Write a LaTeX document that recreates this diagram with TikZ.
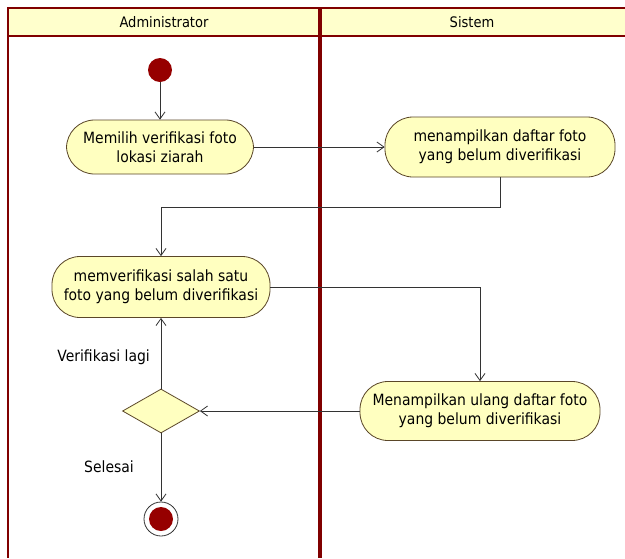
\documentclass[tikz,border=0pt]{standalone}
\usepackage{fontspec}
\setmainfont{DejaVu Sans Condensed}
\usetikzlibrary{arrows.meta,shapes.geometric}
\definecolor{poolred}{RGB}{128,0,0}
\definecolor{headfill}{RGB}{255,255,204}
\definecolor{actfill}{RGB}{255,255,192}
\definecolor{actline}{RGB}{90,70,40}
\definecolor{dotred}{RGB}{150,0,0}
\tikzset{
  action/.style={draw=actline, fill=actfill, rounded corners=28pt, align=center,
    font=\fontsize{15.5}{19}\selectfont, inner sep=0pt, line width=0.8pt},
  decision/.style={draw=actline, fill=actfill, diamond, aspect=1.75, inner sep=0pt,
    minimum width=77pt, minimum height=44pt, line width=0.8pt},
  flow/.style={draw=black!80, line width=0.8pt, -{Straight Barb[length=7pt,width=10pt]}},
  guard/.style={font=\fontsize{15.5}{19}\selectfont, anchor=east, inner sep=0pt},
  lane/.style={draw=poolred},
  lanetitle/.style={font=\fontsize{14.5}{18}\selectfont},
}
\begin{document}
\begin{tikzpicture}[x=1pt,y=-1pt]
\useasboundingbox[fill=white] (0,0) rectangle (625,558);
% swimlane header
\fill[headfill] (8,8) rectangle (625,36);
\draw[lane, line width=2pt] (625,8) -- (8,8) -- (8,558);
\draw[lane, line width=2pt] (8,36) -- (625,36);
\draw[lane, line width=4pt] (320,8) -- (320,558);
\node[lanetitle] (hadm) at (164,22) {Administrator};
\node[lanetitle] (hsys) at (472,22) {Sistem};
% nodes
\node[circle, fill=dotred, minimum size=24pt, inner sep=0pt] (start) at (160,70) {};
\node[action, minimum width=187pt, minimum height=54pt] (a1) at (160,147)
  {Memilih verifikasi foto\\lokasi ziarah};
\node[action, minimum width=230pt, minimum height=60pt] (a2) at (500,147)
  {menampilkan daftar foto\\yang belum diverifikasi};
\node[action, minimum width=218pt, minimum height=61pt] (a3) at (161,287)
  {memverifikasi salah satu\\foto yang belum diverifikasi};
\node[action, minimum width=240pt, minimum height=59pt] (a4) at (480,411)
  {Menampilkan ulang daftar foto\\yang belum diverifikasi};
\node[decision] (dec) at (161,411) {};
\node[circle, draw=black!80, line width=0.8pt, fill=white, minimum size=34pt, inner sep=0pt] (end) at (161,519) {};
\node[circle, fill=dotred, minimum size=24pt, inner sep=0pt] (endin) at (end) {};
% connectors
\draw[flow] (start) -- (a1);
\draw[flow] (a1.east) -- (a2.west);
\draw[flow] (a2.south) -- ++(0,30) -| (a3.north);
\draw[flow] (a3.east) -| (a4.north);
\draw[flow] (a4.west) -- (dec.east);
\draw[flow] (dec.north) -- (a3.south);
\draw[flow] (dec.south) -- (end);
% guards
\node[guard] (g1) at (150,357) {Verifikasi lagi};
\node[guard] (g2) at (134,467) {Selesai};
\end{tikzpicture}
\end{document}
